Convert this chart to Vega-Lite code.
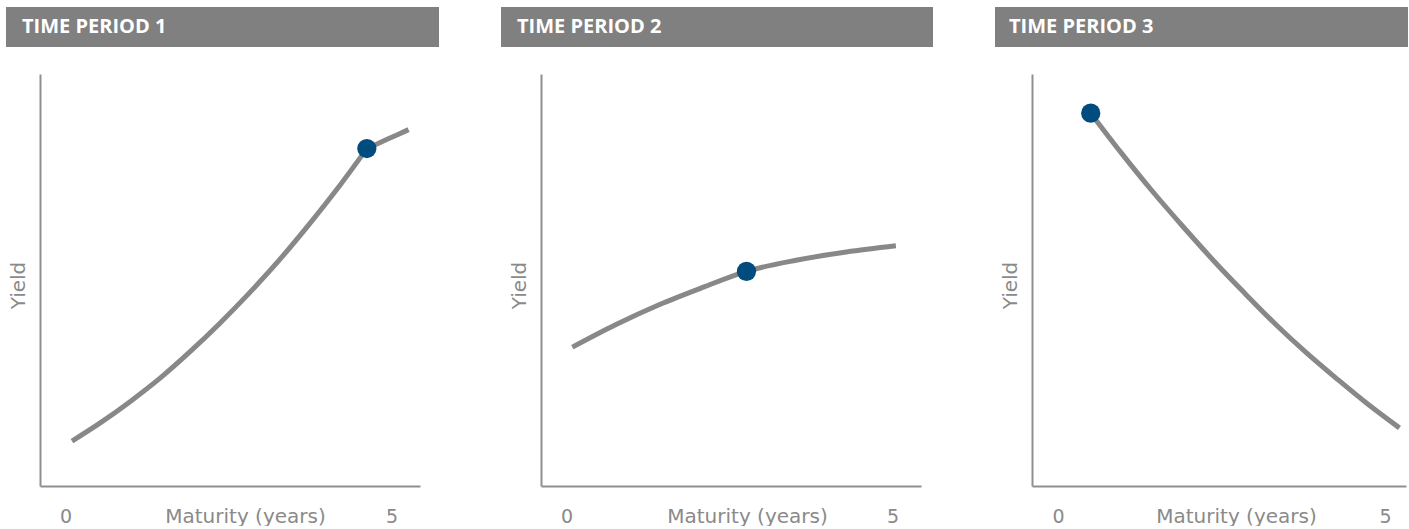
{
  "$schema": "https://vega.github.io/schema/vega-lite/v6.json",
  "padding": {"left": 6, "top": 7, "right": 0, "bottom": 0},
  "background": "white",
  "config": {
    "view": {"stroke": null},
    "font": "DejaVu Sans",
    "axis": {
      "grid": false, "ticks": false, "tickSize": 0,
      "domainColor": "#8f8f8f", "domainWidth": 2,
      "labelColor": "#8a8a8a", "titleColor": "#8a8a8a",
      "labelFont": "DejaVu Sans", "titleFont": "DejaVu Sans",
      "labelFontSize": 19, "titleFontSize": 20, "titleFontWeight": "normal"
    }
  },
  "datasets": {
    "headers": [
      {"panel": 1, "label": "TIME PERIOD 1"},
      {"panel": 2, "label": "TIME PERIOD 2"},
      {"panel": 3, "label": "TIME PERIOD 3"}
    ],
    "curves": [
      {"panel": 1, "segment": 1, "maturity": 0.10, "yield": 1.09, "highlight": false},
      {"panel": 1, "segment": 1, "maturity": 0.55, "yield": 1.55, "highlight": false},
      {"panel": 1, "segment": 1, "maturity": 1.00, "yield": 2.06, "highlight": false},
      {"panel": 1, "segment": 1, "maturity": 1.46, "yield": 2.63, "highlight": false},
      {"panel": 1, "segment": 1, "maturity": 1.91, "yield": 3.26, "highlight": false},
      {"panel": 1, "segment": 1, "maturity": 2.36, "yield": 3.94, "highlight": false},
      {"panel": 1, "segment": 1, "maturity": 2.81, "yield": 4.67, "highlight": false},
      {"panel": 1, "segment": 1, "maturity": 3.27, "yield": 5.47, "highlight": false},
      {"panel": 1, "segment": 1, "maturity": 3.72, "yield": 6.32, "highlight": false},
      {"panel": 1, "segment": 1, "maturity": 4.17, "yield": 7.22, "highlight": false},
      {"panel": 1, "segment": 1, "maturity": 4.62, "yield": 8.19, "highlight": true},
      {"panel": 1, "segment": 2, "maturity": 4.62, "yield": 8.19, "highlight": false},
      {"panel": 1, "segment": 2, "maturity": 4.94, "yield": 8.42, "highlight": false},
      {"panel": 1, "segment": 2, "maturity": 5.26, "yield": 8.65, "highlight": false},
      {"panel": 2, "segment": 1, "maturity": 0.09, "yield": 3.37, "highlight": false},
      {"panel": 2, "segment": 1, "maturity": 0.76, "yield": 3.92, "highlight": false},
      {"panel": 2, "segment": 1, "maturity": 1.42, "yield": 4.40, "highlight": false},
      {"panel": 2, "segment": 1, "maturity": 2.09, "yield": 4.82, "highlight": false},
      {"panel": 2, "segment": 1, "maturity": 2.76, "yield": 5.21, "highlight": true},
      {"panel": 2, "segment": 1, "maturity": 3.52, "yield": 5.48, "highlight": false},
      {"panel": 2, "segment": 1, "maturity": 4.29, "yield": 5.68, "highlight": false},
      {"panel": 2, "segment": 1, "maturity": 5.05, "yield": 5.83, "highlight": false},
      {"panel": 3, "segment": 1, "maturity": 0.50, "yield": 9.05, "highlight": true},
      {"panel": 3, "segment": 1, "maturity": 0.97, "yield": 8.08, "highlight": false},
      {"panel": 3, "segment": 1, "maturity": 1.44, "yield": 7.16, "highlight": false},
      {"panel": 3, "segment": 1, "maturity": 1.92, "yield": 6.28, "highlight": false},
      {"panel": 3, "segment": 1, "maturity": 2.39, "yield": 5.45, "highlight": false},
      {"panel": 3, "segment": 1, "maturity": 2.86, "yield": 4.67, "highlight": false},
      {"panel": 3, "segment": 1, "maturity": 3.33, "yield": 3.92, "highlight": false},
      {"panel": 3, "segment": 1, "maturity": 3.80, "yield": 3.23, "highlight": false},
      {"panel": 3, "segment": 1, "maturity": 4.28, "yield": 2.58, "highlight": false},
      {"panel": 3, "segment": 1, "maturity": 4.75, "yield": 1.97, "highlight": false},
      {"panel": 3, "segment": 1, "maturity": 5.22, "yield": 1.41, "highlight": false}
    ]
  },
  "spacing": 27,
  "vconcat": [
    {
      "spacing": 62,
      "hconcat": [
        {
          "width": 399, "height": 40,
          "data": {"name": "headers"},
          "transform": [{"filter": "datum.panel == 1"}],
          "encoding": {
            "x": {"datum": -0.08521, "type": "quantitative", "scale": {"domain": [0, 1], "nice": false, "zero": false}, "axis": null}
          },
          "layer": [
            {"mark": {"type": "rect", "color": "#808080", "clip": false},
             "encoding": {"x2": {"datum": 1}}},
            {"mark": {"type": "text", "align": "left", "baseline": "middle", "dx": 16, "color": "white", "fontWeight": "bold", "fontSize": 20, "font": "Open Sans"},
             "encoding": {"text": {"field": "label"}}}
          ]
        },
        {
          "width": 432, "height": 40,
          "data": {"name": "headers"},
          "transform": [{"filter": "datum.panel == 2"}],
          "encoding": {
            "x": {"datum": 0, "type": "quantitative", "scale": {"domain": [0, 1], "nice": false, "zero": false}, "axis": null}
          },
          "layer": [
            {"mark": {"type": "rect", "color": "#808080"},
             "encoding": {"x2": {"datum": 1}}},
            {"mark": {"type": "text", "align": "left", "baseline": "middle", "dx": 16, "color": "white", "fontWeight": "bold", "fontSize": 20, "font": "Open Sans"},
             "encoding": {"text": {"field": "label"}}}
          ]
        },
        {
          "width": 413, "height": 40,
          "data": {"name": "headers"},
          "transform": [{"filter": "datum.panel == 3"}],
          "encoding": {
            "x": {"datum": 0, "type": "quantitative", "scale": {"domain": [0, 1], "nice": false, "zero": false}, "axis": null}
          },
          "layer": [
            {"mark": {"type": "rect", "color": "#808080"},
             "encoding": {"x2": {"datum": 1}}},
            {"mark": {"type": "text", "align": "left", "baseline": "middle", "dx": 14, "color": "white", "fontWeight": "bold", "fontSize": 20, "font": "Open Sans"},
             "encoding": {"text": {"field": "label"}}}
          ]
        }
      ]
    },
    {
      "spacing": 79,
      "hconcat": [
        {
          "spacing": 89,
          "hconcat": [
            {
              "width": 380, "height": 412,
              "data": {"name": "curves"},
              "transform": [{"filter": "datum.panel == 1"}],
              "encoding": {
                "x": {"field": "maturity", "type": "quantitative",
                  "scale": {"domain": [-0.39, 5.435], "nice": false, "zero": false},
                  "axis": {"title": "Maturity (years)", "values": [0, 5], "labelFontSize": 19, "labelPadding": 36, "labelBaseline": "alphabetic", "labelFlush": false,
                    "titleX": 205, "titleY": 36, "titleAlign": "center", "titleBaseline": "alphabetic"}},
                "y": {"field": "yield", "type": "quantitative",
                  "scale": {"domain": [0, 10], "nice": false, "zero": false},
                  "axis": {"title": "Yield", "labels": false, "titlePadding": 12, "titleY": 211}}
              },
              "layer": [
                {"mark": {"type": "line", "color": "#888888", "strokeWidth": 5, "interpolate": "monotone", "strokeCap": "butt"},
                 "encoding": {"detail": {"field": "segment"}}},
                {"transform": [{"filter": "datum.highlight"}],
                 "mark": {"type": "point", "filled": true, "opacity": 1, "color": "#004c7f", "size": 370}}
              ]
            },
            {
              "width": 380, "height": 412,
              "data": {"name": "curves"},
              "transform": [{"filter": "datum.panel == 2"}],
              "encoding": {
                "x": {"field": "maturity", "type": "quantitative",
                  "scale": {"domain": [-0.39, 5.435], "nice": false, "zero": false},
                  "axis": {"title": "Maturity (years)", "values": [0, 5], "labelFontSize": 19, "labelPadding": 36, "labelBaseline": "alphabetic", "labelFlush": false,
                    "titleX": 206, "titleY": 36, "titleAlign": "center", "titleBaseline": "alphabetic"}},
                "y": {"field": "yield", "type": "quantitative",
                  "scale": {"domain": [0, 10], "nice": false, "zero": false},
                  "axis": {"title": "Yield", "labels": false, "titlePadding": 12, "titleY": 211}}
              },
              "layer": [
                {"mark": {"type": "line", "color": "#888888", "strokeWidth": 5, "interpolate": "monotone", "strokeCap": "butt"},
                 "encoding": {"detail": {"field": "segment"}}},
                {"transform": [{"filter": "datum.highlight"}],
                 "mark": {"type": "point", "filled": true, "opacity": 1, "color": "#004c7f", "size": 370}}
              ]
            }
          ]
        },
        {
          "width": 374, "height": 412,
          "data": {"name": "curves"},
          "transform": [{"filter": "datum.panel == 3"}],
          "encoding": {
            "x": {"field": "maturity", "type": "quantitative",
              "scale": {"domain": [-0.398, 5.321], "nice": false, "zero": false},
              "axis": {"title": "Maturity (years)", "values": [0, 5], "labelFontSize": 19, "labelPadding": 36, "labelBaseline": "alphabetic", "labelFlush": false,
                "titleX": 204, "titleY": 36, "titleAlign": "center", "titleBaseline": "alphabetic"}},
            "y": {"field": "yield", "type": "quantitative",
              "scale": {"domain": [0, 10], "nice": false, "zero": false},
              "axis": {"title": "Yield", "labels": false, "titlePadding": 12, "titleY": 211}}
          },
          "layer": [
            {"mark": {"type": "line", "color": "#888888", "strokeWidth": 5, "interpolate": "monotone", "strokeCap": "butt"},
             "encoding": {"detail": {"field": "segment"}}},
            {"transform": [{"filter": "datum.highlight"}],
             "mark": {"type": "point", "filled": true, "opacity": 1, "color": "#004c7f", "size": 370}}
          ]
        }
      ]
    }
  ]
}
